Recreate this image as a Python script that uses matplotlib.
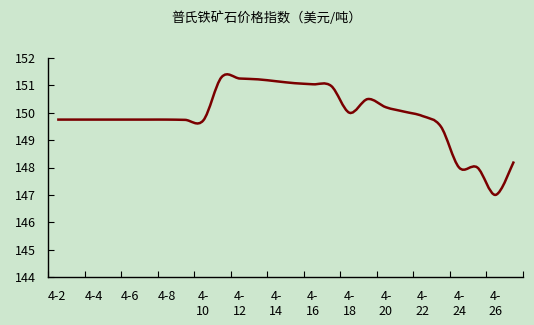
import matplotlib
matplotlib.use('Agg')
import matplotlib.pyplot as plt
import numpy as np
from matplotlib.path import Path
from matplotlib.patches import PathPatch

plt.rcParams['font.family'] = ['Noto Sans CJK SC', 'DejaVu Sans']

title = '普氏铁矿石价格指数（美元/吨）'
dates = ['4-2', '4-3', '4-4', '4-5', '4-6', '4-7', '4-8', '4-9', '4-10',
         '4-11', '4-12', '4-13', '4-14', '4-15', '4-16', '4-17', '4-18',
         '4-19', '4-20', '4-21', '4-22', '4-23', '4-24', '4-25', '4-26', '4-27']
price = [149.75, 149.75, 149.75, 149.75, 149.75, 149.75, 149.75, 149.74,
         149.72, 151.30, 151.25, 151.22, 151.15, 151.08, 151.04, 150.98,
         150.00, 150.50, 150.20, 150.04, 149.88, 149.50, 148.00, 148.00,
         147.00, 148.22]
y_ticks = [144, 145, 146, 147, 148, 149, 150, 151, 152]

bg = '#CDE7CE'
fig = plt.figure(figsize=(5.34, 3.25), dpi=100, facecolor=bg)
ax = fig.add_axes([48 / 534, 1 - 277 / 325, 475 / 534, 219 / 325])
ax.set_facecolor(bg)

# smoothed line (Excel style bezier through the daily points)
n = len(price)
pts = np.column_stack([np.arange(n), price])
ext = np.vstack([pts[0], pts, pts[-1]])
verts = [pts[0]]
codes = [Path.MOVETO]
for i in range(n - 1):
    p0, p1, p2, p3 = ext[i], ext[i + 1], ext[i + 2], ext[i + 3]
    verts += [p1 + (p2 - p0) / 6, p2 - (p3 - p1) / 6, p2]
    codes += [Path.CURVE4] * 3
ax.add_patch(PathPatch(Path(verts, codes), fill=False,
                       edgecolor='#7A0000', lw=1.8, capstyle='butt'))

ax.set_xlim(-0.5, n - 0.5)
ax.set_ylim(144, 152)
ax.set_yticks(y_ticks)
ax.set_yticklabels([str(v) for v in y_ticks], fontsize=9)

# tick marks between categories, labels every second day
ax.set_xticks(np.arange(-0.5, n, 2))
ax.set_xticklabels([])
lab_pos = np.arange(0, n, 2)
ax.set_xticks(lab_pos, minor=True)
ax.set_xticklabels([d if len(d) < 4 else d[:2] + '\n' + d[2:]
                    for d in dates[::2]], minor=True, fontsize=9,
                   linespacing=1.25, va='top')
ax.tick_params(axis='x', which='minor', length=0, pad=9)
ax.tick_params(axis='both', which='major', direction='in', length=4,
               width=0.8, color='black')
ax.tick_params(axis='y', pad=9)

for s in ['top', 'right']:
    ax.spines[s].set_visible(False)
for s in ['left', 'bottom']:
    ax.spines[s].set_linewidth(1.0)

fig.text(0.5, 1 - 18 / 325, title, ha='center', va='center', fontsize=9.5)

fig.savefig('out.png', dpi=100, facecolor=bg)
